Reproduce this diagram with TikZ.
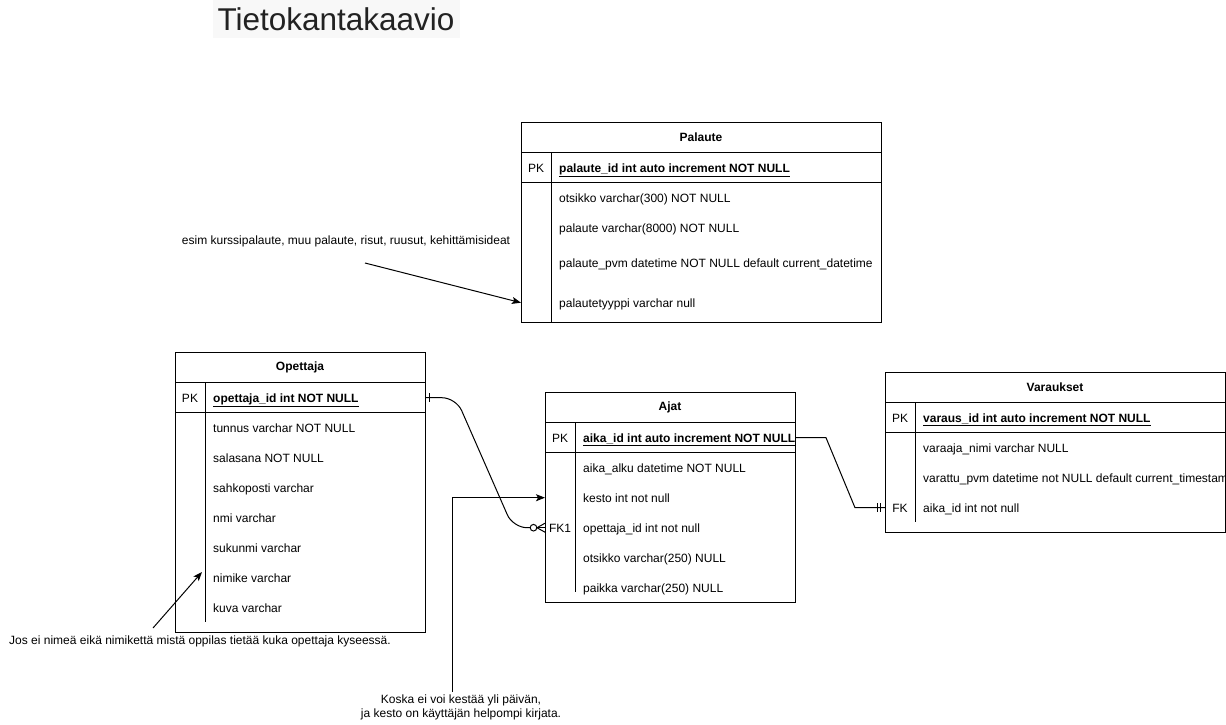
\documentclass[tikz,border=0pt]{standalone}
\usepackage{fontspec}
\setmainfont{Liberation Sans}
\usetikzlibrary{arrows.meta,calc}
\definecolor{titlebg}{HTML}{F8F8F8}
\definecolor{titlefg}{HTML}{222222}
\definecolor{ulgray}{HTML}{555555}
\begin{document}
\begin{tikzpicture}[x=1pt,y=-1pt,
  every node/.style={font=\fontsize{12}{14}\selectfont},
  tbl/.style={draw, line width=1pt, anchor=north west, inner sep=0},
  sep/.style={line width=1pt},
  hdr/.style={font=\fontsize{12}{14}\selectfont\bfseries, inner sep=0, anchor=center, yshift=-0.7pt},
  keycell/.style={inner sep=0, anchor=center, text height=8.6pt, text depth=0pt, yshift=-0.7pt},
  cell/.style={inner sep=0, anchor=west, text height=8.6pt, text depth=0pt, yshift=-0.7pt},
  note/.style={inner sep=0, anchor=center, align=center},
  rel/.style={line width=1pt},
  arr/.style={line width=1pt, -{Stealth[length=9pt,width=7pt,inset=2pt]}}
]
\useasboundingbox (0,0) rectangle (1226,724);
\clip (0,0) rectangle (1226,724);
\fill[white] (0,0) rectangle (1226,724);

% Title
\node[fill=titlebg, text=titlefg, minimum width=247, minimum height=38, inner sep=0,
      font=\fontsize{31.5}{34}\selectfont] (title) at (336,19) {Tietokantakaavio};

% ---------- Palaute ----------
\node[tbl, minimum width=360, minimum height=200] (palaute) at (521,122) {};
\draw[sep] (521,152) -- (881,152);
\draw[sep] (521,182) -- (881,182);
\draw[sep] (551,152) -- (551,322);
\node[hdr] (pa-t) at (701,137) {Palaute};
\node[keycell] (pa-pk) at (536,167) {PK};
\node[cell] (pa-1) at (559,167) {\textbf{\underline{palaute\_id int auto increment NOT NULL}}};
\node[cell] (pa-2) at (559,197) {otsikko varchar(300) NOT NULL};
\node[cell] (pa-3) at (559,227) {palaute varchar(8000) NOT NULL};
\node[cell] (pa-4) at (559,262) {palaute\_pvm datetime NOT NULL default current\_datetime};
\node[cell] (pa-5) at (559,302) {palautetyyppi varchar null};

% ---------- Opettaja ----------
\node[tbl, minimum width=250, minimum height=280] (opettaja) at (175,352) {};
\draw[sep] (175,382) -- (425,382);
\draw[sep] (175,412) -- (425,412);
\draw[sep] (205,382) -- (205,622);
\node[hdr] (op-t) at (300,367) {Opettaja};
\node[keycell] (op-pk) at (190,397) {PK};
\node[cell] (op-1) at (213,397) {\textbf{\underline{opettaja\_id int NOT NULL}}};
\node[cell] (op-2) at (213,427) {tunnus varchar NOT NULL};
\node[cell] (op-3) at (213,457) {salasana NOT NULL};
\node[cell] (op-4) at (213,487) {sahkoposti varchar};
\node[cell] (op-5) at (213,517) {nmi varchar};
\node[cell] (op-6) at (213,547) {sukunmi varchar};
\node[cell] (op-7) at (213,577) {nimike varchar};
\node[cell] (op-8) at (213,607) {kuva varchar};

% ---------- Ajat ----------
\node[tbl, minimum width=250, minimum height=210] (ajat) at (545,392) {};
\draw[sep] (545,422) -- (795,422);
\draw[sep] (545,452) -- (795,452);
\draw[sep] (575,422) -- (575,592);
\node[hdr] (aj-t) at (670,407) {Ajat};
\node[keycell] (aj-pk) at (560,437) {PK};
\node[cell] (aj-1) at (583,437) {\textbf{\underline{aika\_id int auto increment NOT NULL}}};
\node[cell] (aj-2) at (583,467) {aika\_alku datetime NOT NULL};
\node[cell] (aj-3) at (583,497) {kesto int not null};
\node[keycell] (aj-fk) at (560,527) {FK1};
\node[cell] (aj-4) at (583,527) {opettaja\_id int not null};
\node[cell] (aj-5) at (583,557) {otsikko varchar(250) NULL};
\node[cell] (aj-6) at (583,587) {paikka varchar(250) NULL};

% ---------- Varaukset ----------
\node[tbl, minimum width=340, minimum height=160] (varaukset) at (885,372) {};
\draw[sep] (885,402) -- (1225,402);
\draw[sep] (885,432) -- (1225,432);
\draw[sep] (915,402) -- (915,522);
\node[hdr] (va-t) at (1055,387) {Varaukset};
\node[keycell] (va-pk) at (900,417) {PK};
\node[cell] (va-1) at (923,417) {\textbf{\underline{varaus\_id int auto increment NOT NULL}}};
\node[cell] (va-2) at (923,447) {varaaja\_nimi varchar NULL};
\node[cell] (va-3) at (923,477) {varattu\_pvm datetime not NULL default current\_timestamp};
\node[keycell] (va-fk) at (900,507) {FK};
\node[cell] (va-4) at (923,507) {aika\_id int not null};

% ---------- Relationships ----------
% Opettaja (one) -- Ajat (zero or many)
\draw[rel, rounded corners=14] (opettaja.east |- op-pk) -- ++(30,0)
   -- ($(ajat.west |- aj-fk)+(-32,0)$) -- ($(ajat.west |- aj-fk)+(-12,0)$);
\draw[rel] ($(opettaja.east |- op-pk)+(3.5,-4.5)$) -- ++(0,9);
\draw[rel, fill=white] ($(ajat.west |- aj-fk)+(-11.5,0)$) circle (3.3);
\draw[rel] ($(ajat.west |- aj-fk)+(-8,0)$) -- (ajat.west |- aj-fk);
\draw[rel] ($(ajat.west |- aj-fk)+(-8,0)$) -- ($(ajat.west |- aj-fk)+(0,-4.5)$);
\draw[rel] ($(ajat.west |- aj-fk)+(-8,0)$) -- ($(ajat.west |- aj-fk)+(0,4.5)$);

% Ajat (PK) -- Varaukset (one mandatory)
\draw[rel] (ajat.east |- aj-pk) -- ++(30,0)
   -- ($(varaukset.west |- va-fk)+(-30,0)$) -- (varaukset.west |- va-fk);
\draw[rel] ($(varaukset.west |- va-fk)+(-8,-4.5)$) -- ++(0,9);
\draw[rel] ($(varaukset.west |- va-fk)+(-5,-4.5)$) -- ++(0,9);

% ---------- Notes ----------
\node[note] (n1) at (346,241) {esim kurssipalaute, muu palaute, risut, ruusut, kehittämisideat};
\coordinate (n1s) at (365,263);
\draw[arr] (n1s) -- (palaute.west |- pa-5);

\node[note] (n2) at (200,641) {Jos ei nimeä eikä nimikettä mistä oppilas tietää kuka opettaja kyseessä.};
\coordinate (n2s) at (153,628);
\coordinate (n2e) at (202,572);
\draw[arr] (n2s) -- (n2e);

\node[note] (n3) at (461,707.5) {Koska ei voi kestää yli päivän,\\ja kesto on käyttäjän helpompi kirjata.};
\coordinate (n3s) at (452,692);
\draw[arr] (n3s) -- (n3s |- aj-3) -- (ajat.west |- aj-3);
\end{tikzpicture}
\end{document}
